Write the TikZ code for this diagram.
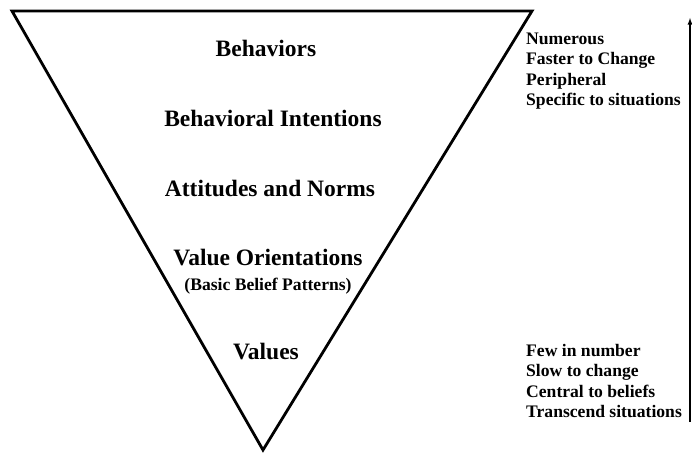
\documentclass[tikz,border=0pt]{standalone}
\usepackage{fontspec}
\setmainfont{Liberation Serif}
\usepackage{tikz}
\usetikzlibrary{arrows,positioning}

\tikzset{
  level/.style={font=\fontsize{23.5}{26}\selectfont\bfseries, inner sep=0pt},
  sub/.style={font=\fontsize{17.6}{20}\selectfont\bfseries, inner sep=0pt},
  traits/.style={font=\fontsize{17.6}{20.5}\selectfont\bfseries, align=left, anchor=west, inner sep=0pt}
}

\begin{document}
\begin{tikzpicture}[x=1pt,y=-1pt]
\useasboundingbox (0,0) rectangle (692,452);

\coordinate (tl) at (12,11);
\coordinate (tr) at (532,11);
\coordinate (tip) at (263,450);
\draw[line width=2.8pt, line join=miter] (tl) -- (tr) -- (tip) -- cycle;

\node[level] (behav) at (266,48) {Behaviors};
\node[level] (intent) at (273,118) {Behavioral Intentions};
\node[level] (attit) at (270,188) {Attitudes and Norms};
\node[level] (orient) at (268,258) {Value Orientations};
\node[sub, below=11pt of orient] (basic) {(Basic Belief Patterns)};
\node[level] (values) at (266,352) {Values};

\node[traits] (top) at (526,71) {Numerous\\Faster to Change\\Peripheral\\Specific to situations};
\node[traits] (bottom) at (526,381) {Few in number\\Slow to change\\Central to beliefs\\Transcend situations};

\coordinate (lo) at (690,422);
\coordinate (hi) at (690,18);
\draw[line width=1.3pt, -latex] (lo) -- (hi);
\end{tikzpicture}
\end{document}
